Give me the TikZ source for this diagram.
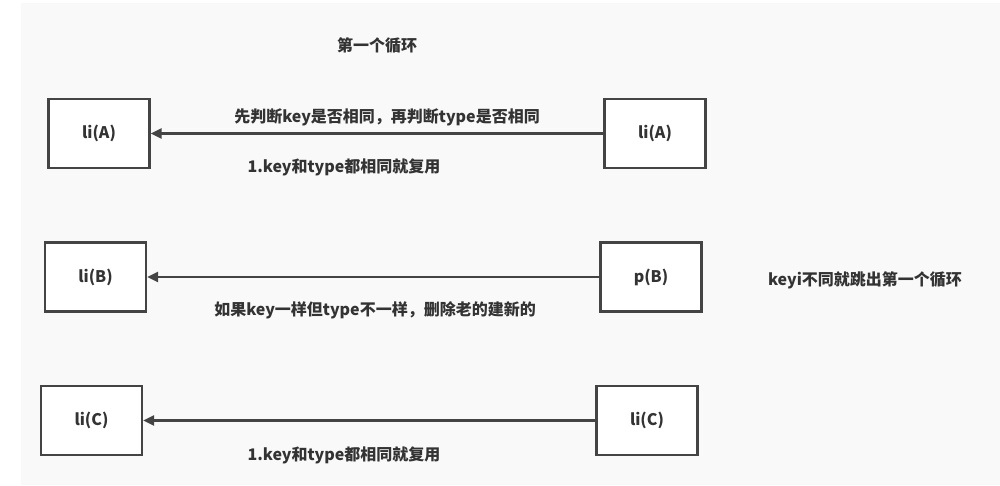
\documentclass[tikz,border=0pt]{standalone}
\usepackage{fontspec}
\setmainfont{Noto Sans CJK SC}
\usetikzlibrary{arrows.meta}
\definecolor{bgc}{HTML}{F9F9F9}
\definecolor{boxc}{HTML}{444444}
\definecolor{txt}{HTML}{333333}
\begin{document}
\begin{tikzpicture}[x=1pt,y=-1pt,
  box/.style={draw=boxc, line width=2.2pt, fill=white, minimum width=101pt, minimum height=69pt, inner sep=0pt, font=\bfseries\fontsize{16}{19}\selectfont, text=txt},
  lbl/.style={font=\bfseries\fontsize{16}{19}\selectfont, text=txt, inner sep=0pt},
  conn/.style={draw=boxc, line width=2.2pt, -{Triangle[length=11pt,width=10pt]}}]
\useasboundingbox (0,0) rectangle (1000,485);
\fill[white] (0,0) rectangle (1000,485);
\fill[bgc] (21,3) rectangle (1000,485);
\node[box] (a1) at (99,133.5) {li(A)};
\node[box] (a2) at (655,133.5) {li(A)};
\node[box] (b1) at (95.5,277) {li(B)};
\node[box] (b2) at (651,277) {p(B)};
\node[box] (c1) at (91.5,420.5) {li(C)};
\node[box] (c2) at (647,420.5) {li(C)};
\draw[conn] (a2) -- (a1);
\draw[conn] (b2) -- (b1);
\draw[conn] (c2) -- (c1);
\node[lbl] (title) at (377,45) {第一个循环};
\node[lbl] (t1) at (387,117) {先判断key是否相同，再判断type是否相同};
\node[lbl] (t2) at (344,167) {1.key和type都相同就复用};
\node[lbl] (t3) at (375,310) {如果key一样但type不一样，删除老的建新的};
\node[lbl] (t4) at (865,280) {keyi不同就跳出第一个循环};
\node[lbl] (t5) at (344,455) {1.key和type都相同就复用};
\end{tikzpicture}
\end{document}
